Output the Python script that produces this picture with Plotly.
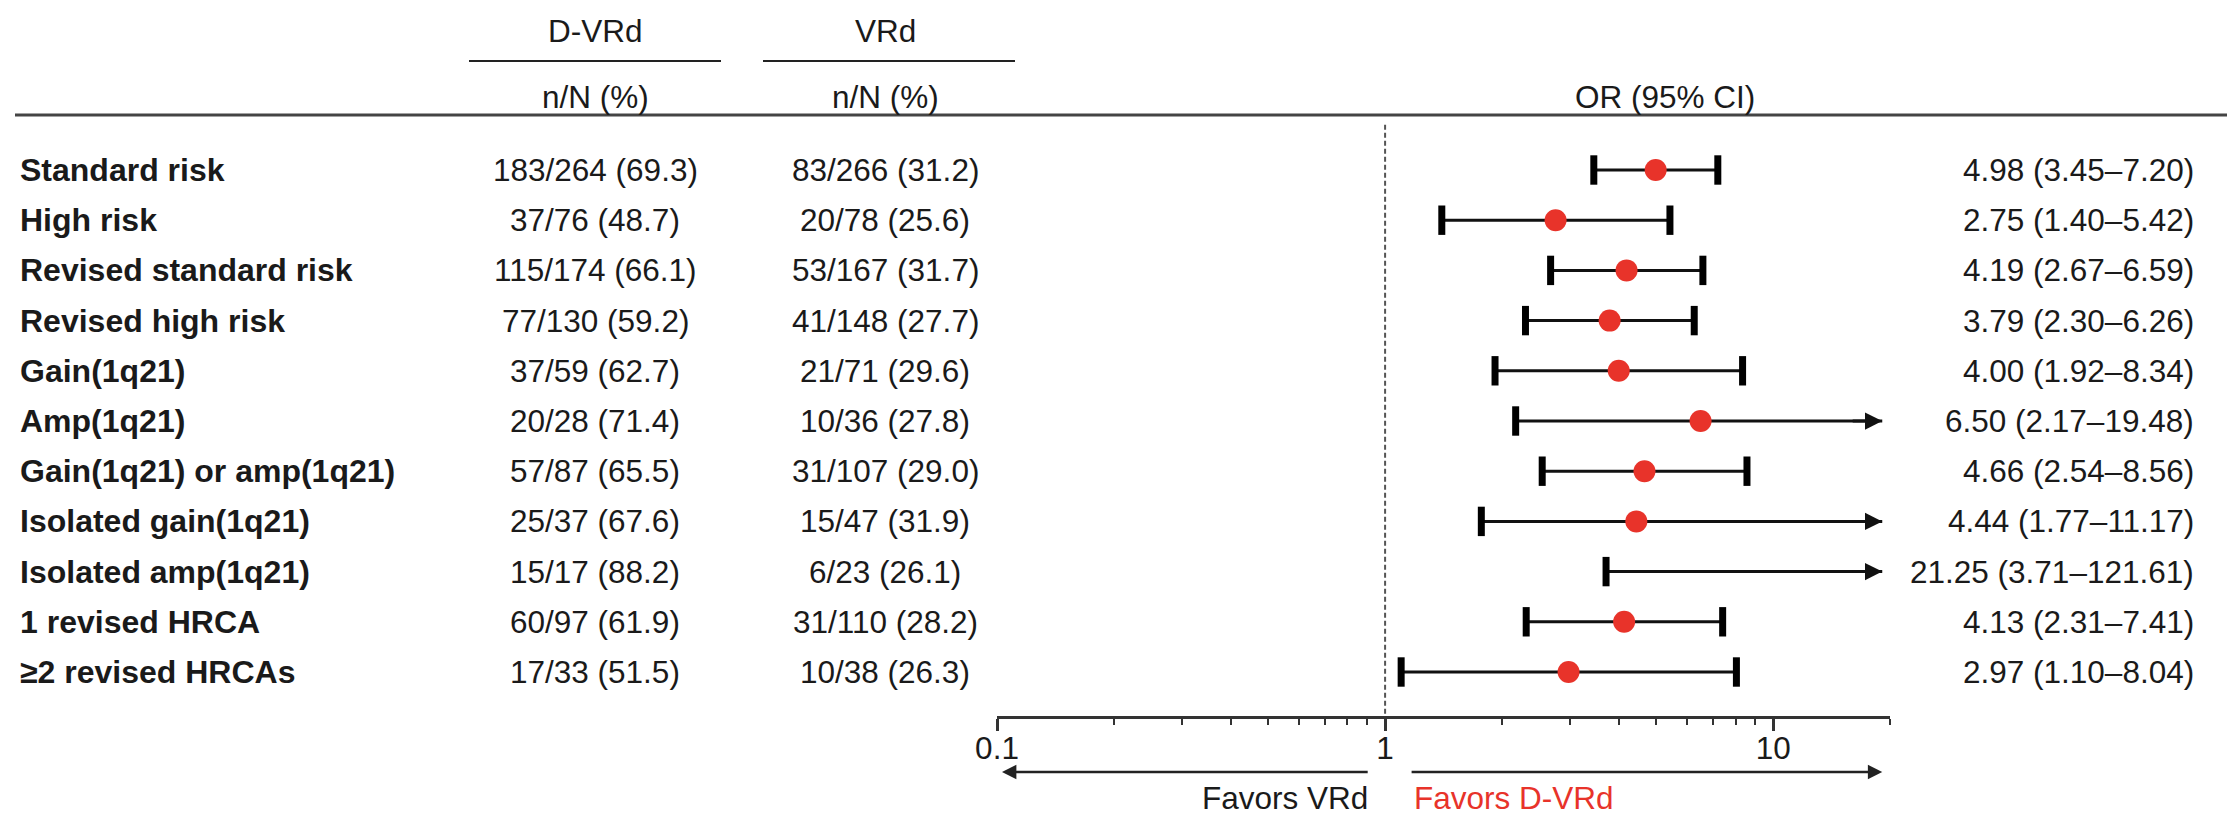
import math
import plotly.graph_objects as go

# ---------------- data ----------------
subgroups = ["Standard risk", "High risk", "Revised standard risk", "Revised high risk",
             "Gain(1q21)", "Amp(1q21)", "Gain(1q21) or amp(1q21)", "Isolated gain(1q21)",
             "Isolated amp(1q21)", "1 revised HRCA", "≥2 revised HRCAs"]
dvrd_text = ["183/264 (69.3)", "37/76 (48.7)", "115/174 (66.1)", "77/130 (59.2)",
             "37/59 (62.7)", "20/28 (71.4)", "57/87 (65.5)", "25/37 (67.6)",
             "15/17 (88.2)", "60/97 (61.9)", "17/33 (51.5)"]
vrd_text = ["83/266 (31.2)", "20/78 (25.6)", "53/167 (31.7)", "41/148 (27.7)",
            "21/71 (29.6)", "10/36 (27.8)", "31/107 (29.0)", "15/47 (31.9)",
            "6/23 (26.1)", "31/110 (28.2)", "10/38 (26.3)"]
odds_ratio = [4.98, 2.75, 4.19, 3.79, 4.00, 6.50, 4.66, 4.44, 21.25, 4.13, 2.97]
ci_low = [3.45, 1.40, 2.67, 2.30, 1.92, 2.17, 2.54, 1.77, 3.71, 2.31, 1.10]
ci_high = [7.20, 5.42, 6.59, 6.26, 8.34, 19.48, 8.56, 11.17, 121.61, 7.41, 8.04]
or_text = ["4.98 (3.45–7.20)", "2.75 (1.40–5.42)", "4.19 (2.67–6.59)", "3.79 (2.30–6.26)",
           "4.00 (1.92–8.34)", "6.50 (2.17–19.48)", "4.66 (2.54–8.56)", "4.44 (1.77–11.17)",
           "21.25 (3.71–121.61)", "4.13 (2.31–7.41)", "2.97 (1.10–8.04)"]
tick_vals = [0.1, 1, 10]
tick_text = ["0.1", "1", "10"]
minor_vals = [0.2, 0.3, 0.4, 0.5, 0.6, 0.7, 0.8, 0.9, 2, 3, 4, 5, 6, 7, 8, 9, 20]
AXIS_MIN, AXIS_MAX = 0.1, 20
ARROW_THRESHOLD = 10      # CIs above this are drawn as arrows to the axis end
ARROW_TIP = 19.1

# ---------------- styling ----------------
W, H = 2227, 818
FONT = "Liberation Sans, Arial, Helvetica, sans-serif"
FS = 31.5
FSB = 32
TXT = "#1a1a1a"
RED = "#E8332A"
LINE = "#111111"


def px(x):
    return x / W


def py(y):
    return 1 - y / H


ROW0, ROWSTEP, AXIS_Y = 170, 50.2, 716
y_top = -ROW0 / ROWSTEP
y_bot = (AXIS_Y - ROW0) / ROWSTEP

rows = list(range(len(subgroups)))

fig = go.Figure()

# reference dashed line at OR = 1
fig.add_trace(go.Scatter(x=[1, 1], y=[-0.9, y_bot], mode="lines",
                         line=dict(color="#555", width=2, dash="5px,3px"),
                         hoverinfo="skip", showlegend=False))

# CI lines
lx, ly = [], []
for i in rows:
    end = ARROW_TIP if ci_high[i] > ARROW_THRESHOLD else ci_high[i]
    lx += [ci_low[i], end, None]
    ly += [i, i, None]
fig.add_trace(go.Scatter(x=lx, y=ly, mode="lines", line=dict(color=LINE, width=3),
                         hoverinfo="skip", showlegend=False))

# caps
cx, cy = [], []
for i in rows:
    cx.append(ci_low[i]); cy.append(i)
    if ci_high[i] <= ARROW_THRESHOLD:
        cx.append(ci_high[i]); cy.append(i)
fig.add_trace(go.Scatter(x=cx, y=cy, mode="markers",
                         marker=dict(symbol="line-ns", size=21,
                                     line=dict(color="black", width=7)),
                         hoverinfo="skip", showlegend=False))

# point estimates (only those inside the axis range)
px_or = [odds_ratio[i] for i in rows if odds_ratio[i] <= AXIS_MAX]
py_or = [i for i in rows if odds_ratio[i] <= AXIS_MAX]
fig.add_trace(go.Scatter(x=px_or, y=py_or, mode="markers",
                         marker=dict(color=RED, size=22, line=dict(width=0)),
                         hoverinfo="skip", showlegend=False))

ann = []
# arrow heads for long CIs
for i in rows:
    if ci_high[i] > ARROW_THRESHOLD:
        ann.append(dict(x=math.log10(ARROW_TIP), y=i, xref="x", yref="y",
                        ax=math.log10(ARROW_TIP) - 0.08, ay=0, axref="x", ayref="pixel",
                        showarrow=True, arrowhead=2, arrowsize=1.15, arrowwidth=3,
                        arrowcolor=LINE, text=""))

# table text
for i in rows:
    ann.append(dict(x=px(18), y=i, xref="paper", yref="y", text=f"<b>{subgroups[i]}</b>",
                    showarrow=False, xanchor="left", yanchor="middle",
                    font=dict(size=FSB, color=TXT, family=FONT)))
    ann.append(dict(x=px(595), y=i, xref="paper", yref="y", text=dvrd_text[i],
                    showarrow=False, xanchor="center", yanchor="middle",
                    font=dict(size=FS, color=TXT, family=FONT)))
    ann.append(dict(x=px(885), y=i, xref="paper", yref="y", text=vrd_text[i],
                    showarrow=False, xanchor="center", yanchor="middle",
                    font=dict(size=FS, color=TXT, family=FONT)))
    ann.append(dict(x=px(2196), y=i, xref="paper", yref="y", text=or_text[i],
                    showarrow=False, xanchor="right", yanchor="middle",
                    font=dict(size=FS, color=TXT, family=FONT)))

# headers
for xc, t, yy in [(595, "D-VRd", 31), (885, "VRd", 31), (595, "n/N (%)", 97),
                  (885, "n/N (%)", 97), (1665, "OR (95% CI)", 97)]:
    ann.append(dict(x=px(xc), y=py(yy), xref="paper", yref="paper", text=t,
                    showarrow=False, xanchor="center", yanchor="middle",
                    font=dict(size=FS, color=TXT, family=FONT)))

# favors arrows and labels
ARROW_Y = 772
ann.append(dict(x=math.log10(0.103), y=py(ARROW_Y), xref="x", yref="paper",
                ax=math.log10(0.91), ay=0, axref="x", ayref="pixel",
                showarrow=True, arrowhead=2, arrowsize=1.15, arrowwidth=2.5,
                arrowcolor="#222", text=""))
ann.append(dict(x=math.log10(ARROW_TIP), y=py(ARROW_Y), xref="x", yref="paper",
                ax=math.log10(1.16), ay=0, axref="x", ayref="pixel",
                showarrow=True, arrowhead=2, arrowsize=1.15, arrowwidth=2.5,
                arrowcolor="#222", text=""))
ann.append(dict(x=px(1370), y=0, xref="paper", yref="paper", text="Favors VRd",
                showarrow=False, xanchor="right", yanchor="bottom",
                font=dict(size=FS, color=TXT, family=FONT)))
ann.append(dict(x=px(1412), y=0, xref="paper", yref="paper", text="Favors D-VRd",
                showarrow=False, xanchor="left", yanchor="bottom",
                font=dict(size=FS, color=RED, family=FONT)))

shapes = [
    dict(type="line", xref="paper", yref="paper", x0=px(469), x1=px(721), y0=py(61), y1=py(61),
         line=dict(color="#222", width=2)),
    dict(type="line", xref="paper", yref="paper", x0=px(763), x1=px(1015), y0=py(61), y1=py(61),
         line=dict(color="#222", width=2)),
    dict(type="line", xref="paper", yref="paper", x0=px(15), x1=1, y0=py(115), y1=py(115),
         line=dict(color="#444", width=3)),
]

fig.update_layout(
    width=W, height=H,
    margin=dict(l=0, r=0, t=0, b=0, pad=0, autoexpand=False),
    paper_bgcolor="white", plot_bgcolor="rgba(0,0,0,0)",
    showlegend=False,
    annotations=ann, shapes=shapes,
    xaxis=dict(type="log", range=[math.log10(AXIS_MIN), math.log10(AXIS_MAX)],
               domain=[px(997), px(1890)], automargin=False,
               showgrid=False, zeroline=False, showline=True, linecolor="#333", linewidth=2.5,
               ticks="outside", ticklen=12, tickwidth=2.5, tickcolor="#333",
               tickmode="array", tickvals=tick_vals, ticktext=tick_text,
               tickfont=dict(size=FS, color=TXT, family=FONT), ticklabelstandoff=-10,
               minor=dict(ticks="outside", ticklen=6, tickwidth=2, tickcolor="#333",
                          tickmode="array", tickvals=minor_vals, showgrid=False)),
    yaxis=dict(range=[y_bot, y_top], domain=[1 - AXIS_Y / H, 1], visible=False,
               automargin=False, showgrid=False, zeroline=False),
)

fig.write_html("out.html")
